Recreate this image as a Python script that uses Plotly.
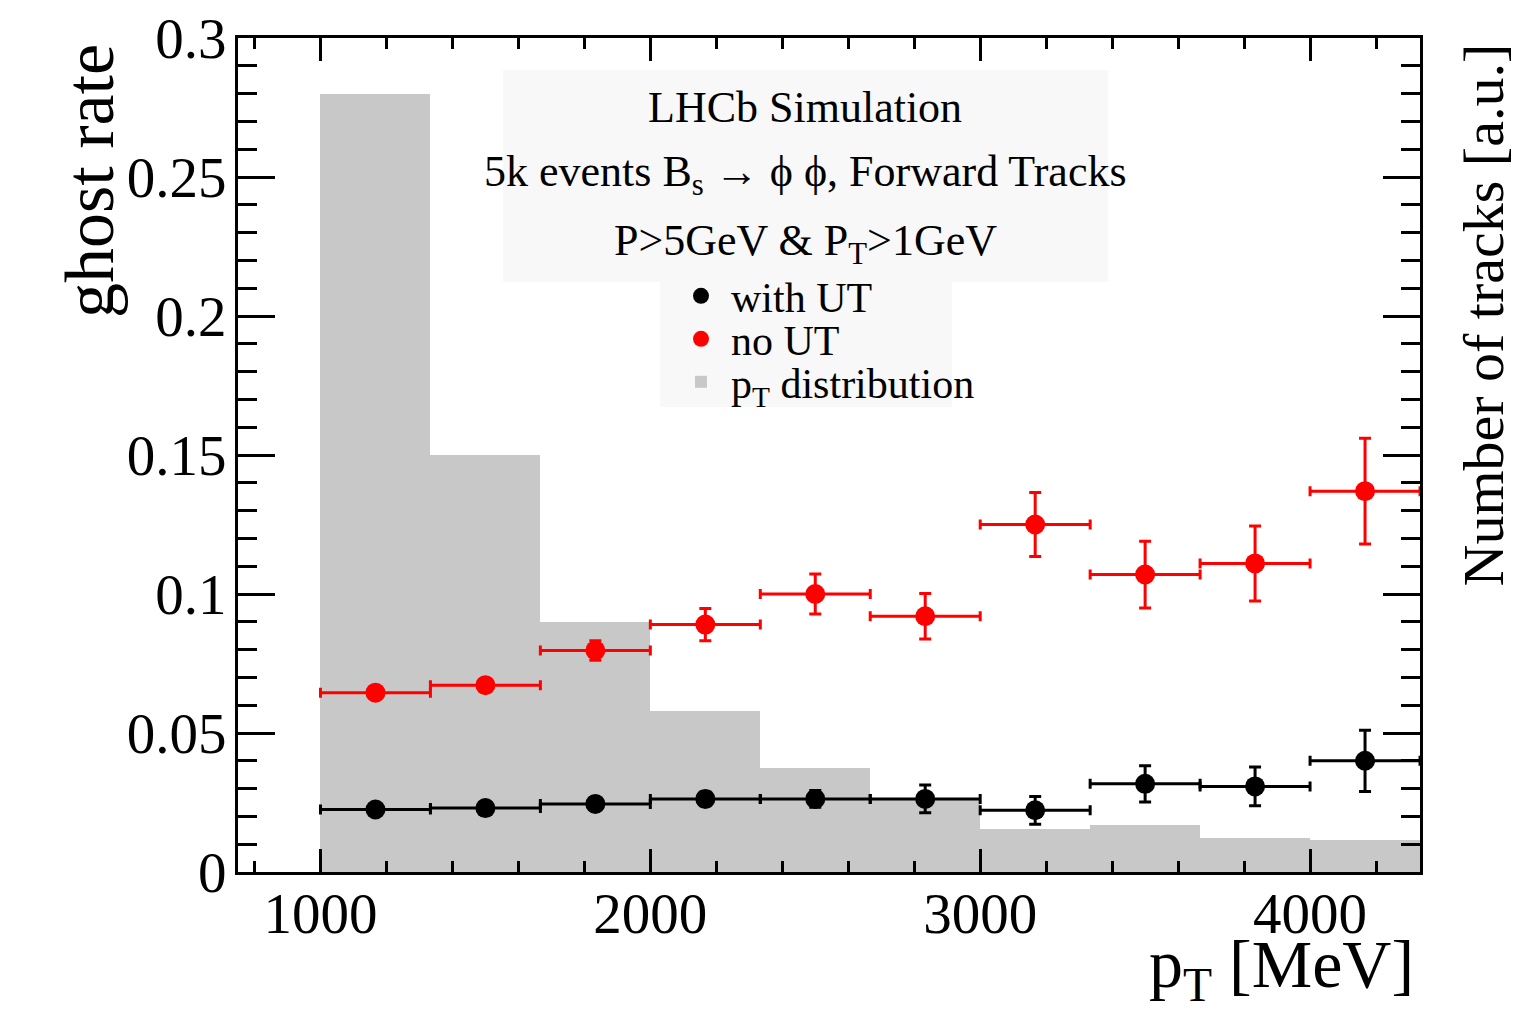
import plotly.graph_objects as go

# ---- data ----
bin_centers = [1166.7, 1500.0, 1833.3, 2166.7, 2500.0, 2833.3, 3166.7, 3500.0, 3833.3, 4166.7]
bin_halfwidth = [166.67] * 10
bin_width = [333.33] * 10

pt_dist = [0.280, 0.150, 0.090, 0.058, 0.0375, 0.0267, 0.0155, 0.017, 0.0123, 0.0115]

with_ut = [0.0225, 0.0230, 0.0245, 0.0263, 0.0263, 0.0263, 0.0222, 0.0317, 0.0308, 0.0400]
with_ut_err = [0.0015, 0.0015, 0.0018, 0.0025, 0.003, 0.005, 0.005, 0.0065, 0.007, 0.011]

no_ut = [0.0645, 0.0672, 0.0797, 0.0890, 0.1000, 0.0920, 0.1250, 0.1070, 0.1110, 0.1370]
no_ut_err = [0.0015, 0.0018, 0.0035, 0.0058, 0.0072, 0.0082, 0.0115, 0.0120, 0.0135, 0.0190]

x_ticks = [1000, 2000, 3000, 4000]

FONT = "Liberation Serif, Times New Roman, serif"

fig = go.Figure()

fig.add_trace(go.Bar(
    x=bin_centers, y=pt_dist, width=bin_width,
    marker=dict(color="#c8c8c8", line=dict(width=0)),
    name="p<sub>T</sub> distribution", legend="legend3",
))

fig.add_trace(go.Scatter(
    x=bin_centers, y=with_ut, mode="markers",
    marker=dict(color="black", size=20, symbol="circle"),
    error_x=dict(type="data", array=bin_halfwidth, color="black", thickness=3, width=5),
    error_y=dict(type="data", array=with_ut_err, color="black", thickness=3, width=6),
    name="with UT", legend="legend",
))

fig.add_trace(go.Scatter(
    x=bin_centers, y=no_ut, mode="markers",
    marker=dict(color="#ff0000", size=20, symbol="circle"),
    error_x=dict(type="data", array=bin_halfwidth, color="#ff0000", thickness=3, width=5),
    error_y=dict(type="data", array=no_ut_err, color="#ff0000", thickness=3, width=6),
    name="no UT", legend="legend2",
))

# page has an 8px body margin; target plot area on screen: x 238..1420, y 38..872
OFF = 8
SL, SR, ST, SB = 238, 1420, 38, 872
W, H = 1524, 1006
L, T = SL - OFF, ST - OFF
R = W - L - (SR - SL)
B = H - T - (SB - ST)
pw, ph = SR - SL, SB - ST

def px(x):
    return (x - SL) / pw

def py(y):
    return (SB - y) / ph

axis_common = dict(
    showline=True, linecolor="black", linewidth=3, mirror="allticks",
    ticks="inside", tickcolor="black", tickwidth=3,
    showgrid=False, zeroline=False, automargin=False,
    ticklabeloverflow="allow",
    tickfont=dict(family=FONT, size=57, color="black"),
)

fig.update_xaxes(
    range=[750, 4333.3], tickvals=x_ticks, ticklen=23,
    minor=dict(dtick=200, tick0=0, ticks="inside", ticklen=11, tickwidth=3, tickcolor="black", showgrid=False),
    ticklabelstandoff=-10,
    **axis_common,
)
fig.update_yaxes(
    range=[0, 0.3], dtick=0.05, ticklen=37,
    minor=dict(dtick=0.01, ticks="inside", ticklen=19, tickwidth=3, tickcolor="black", showgrid=False),
    ticklabelstandoff=-3,
    **axis_common,
)

shapes = [
    dict(type="rect", xref="paper", yref="paper",
         x0=px(503), x1=px(1108), y0=py(282), y1=py(70),
         fillcolor="#f8f8f8", line=dict(width=0), layer="below"),
    dict(type="rect", xref="paper", yref="paper",
         x0=px(660), x1=px(952), y0=py(407), y1=py(282),
         fillcolor="#f8f8f8", line=dict(width=0), layer="below"),
]

ann_font = dict(family=FONT, size=44, color="black")
annotations = [
    dict(text="LHCb Simulation", x=px(805), y=py(107), xref="paper", yref="paper",
         showarrow=False, font=ann_font, xanchor="center", yanchor="middle"),
    dict(text="5k events B<sub>s</sub> \u2192 \u03d5 \u03d5, Forward Tracks", x=px(805), y=py(175),
         xref="paper", yref="paper", showarrow=False, font=ann_font, xanchor="center", yanchor="middle"),
    dict(text="P>5GeV & P<sub>T</sub>>1GeV", x=px(805), y=py(243), xref="paper", yref="paper",
         showarrow=False, font=ann_font, xanchor="center", yanchor="middle"),
    dict(text="ghost rate", x=px(90), y=py(42), xref="paper", yref="paper", textangle=-90,
         showarrow=False, font=dict(family=FONT, size=70, color="black"),
         xanchor="center", yanchor="top"),
    dict(text="Number of tracks [a.u.]", x=px(1483), y=py(42), xref="paper", yref="paper", textangle=-90,
         showarrow=False, font=dict(family=FONT, size=58, color="black"),
         xanchor="center", yanchor="top"),
    dict(text="p<sub>T</sub> [MeV]", x=px(1416), y=py(968), xref="paper", yref="paper",
         showarrow=False, font=dict(family=FONT, size=68, color="black"),
         xanchor="right", yanchor="middle"),
]

leg_common = dict(
    xanchor="left", yanchor="middle",
    bgcolor="rgba(0,0,0,0)", borderwidth=0,
    font=dict(family=FONT, size=42, color="black"),
    itemwidth=50,
)

fig.update_layout(
    width=W, height=H,
    margin=dict(l=L, r=R, t=T, b=B, autoexpand=False),
    plot_bgcolor="white", paper_bgcolor="white",
    shapes=shapes, annotations=annotations,
    showlegend=True,
    legend=dict(x=px(671), y=py(296), **leg_common),
    legend2=dict(x=px(671), y=py(339), **leg_common),
    legend3=dict(x=px(671), y=py(382), **leg_common),
    bargap=0,
)

fig.write_html("out.html")
